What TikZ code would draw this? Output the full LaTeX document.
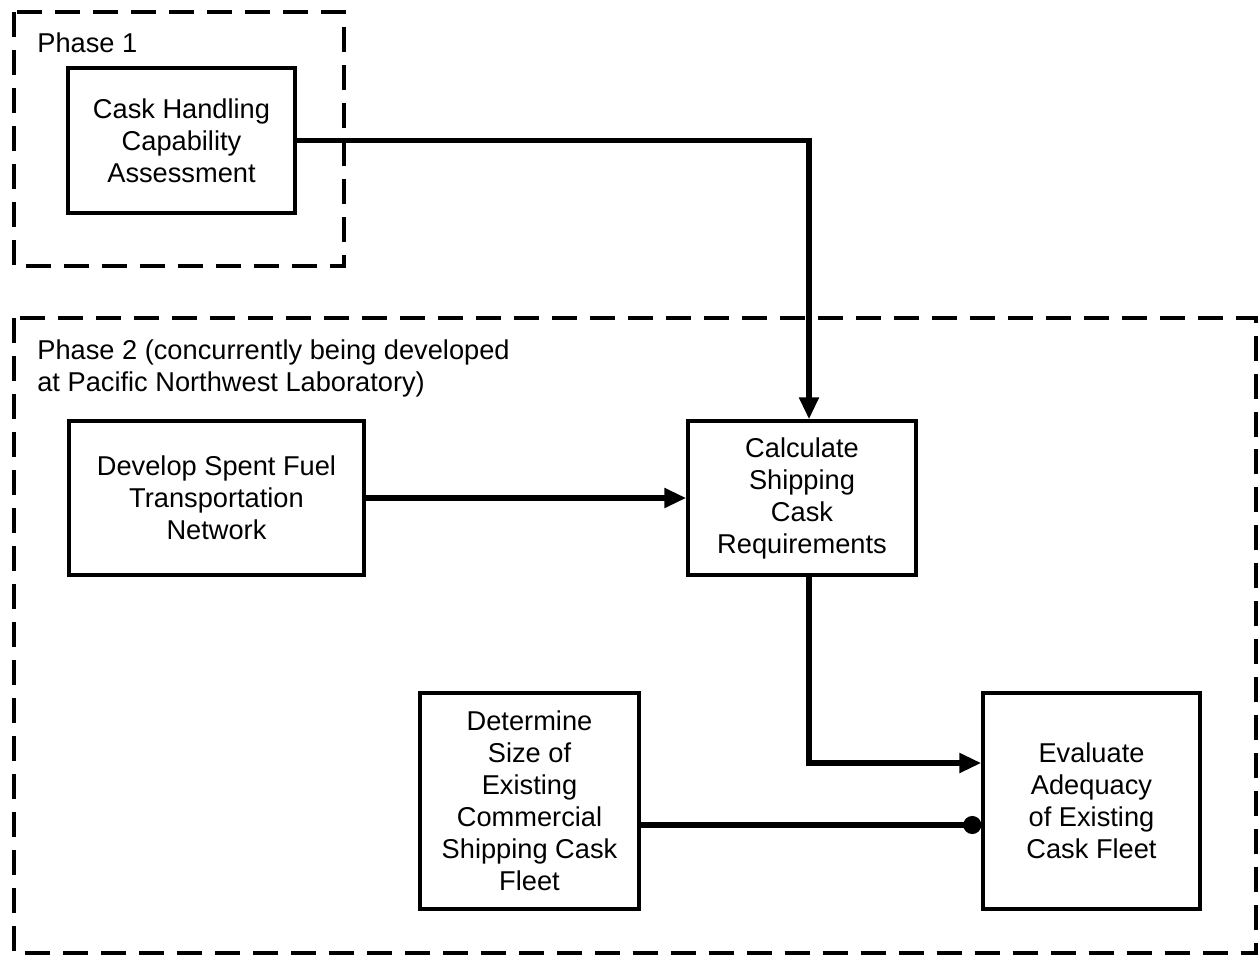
\documentclass[tikz,border=0pt]{standalone}
\usepackage{fontspec}
\setmainfont{Liberation Sans}
\usetikzlibrary{arrows.meta}

\tikzset{
  stage/.style={draw, line width=2pt, align=center, inner sep=0pt,
    font=\fontsize{15.5}{18.2}\selectfont},
  phase/.style={line width=2.4pt, dash pattern=on 0.5cm off 0.26cm},
  label/.style={align=left, inner sep=0pt, font=\fontsize{15.5}{18.2}\selectfont},
  flow/.style={line width=3pt, -{Triangle[length=0.44cm,width=0.38cm]}},
  dotflow/.style={line width=3pt, -{Circle[length=0.36cm]}},
}

\begin{document}
\begin{tikzpicture}[x=0.02cm,y=-0.02cm]
			%%%%% START %%%%%
			\useasboundingbox (0,0) rectangle (1259,957);
			
			% phase frames
			\draw[phase] (14,12) rectangle (344,266);
			\draw[phase] (14,318) rectangle (1256,953);
			\node[label, anchor=west] (ph1) at (37,43) {Phase 1};
			\node[label, anchor=west] (ph2) at (37,368) {Phase 2 (concurrently being developed\\at Pacific Northwest Laboratory)};
			
			% boxes
			\node[stage, minimum width=4.54cm, minimum height=2.9cm] (cask) at (181.5,140.5) {Cask Handling\\Capability\\Assessment};
			\node[stage, minimum width=5.9cm, minimum height=3.08cm] (net) at (216.5,498) {Develop Spent Fuel\\Transportation\\Network};
			\node[stage, minimum width=4.56cm, minimum height=3.08cm] (calc) at (802,498) {Calculate\\Shipping\\Cask\\Requirements};
			\node[stage, minimum width=4.38cm, minimum height=4.32cm] (size) at (529.5,801) {Determine\\Size of\\Existing\\Commercial\\Shipping Cask\\Fleet};
			\node[stage, minimum width=4.34cm, minimum height=4.32cm] (eval) at (1091.5,801) {Evaluate\\Adequacy\\of Existing\\Cask Fleet};
			
			% connectors
			\draw[flow] (cask.east) -| ([xshift=0.14cm]calc.north);
			\draw[flow] (net.east) -- (calc.west);
			\draw[flow] ([xshift=0.14cm]calc.south) |- ([yshift=0.76cm]eval.west);
			\draw[dotflow] ([yshift=-0.48cm]size.east) -- ([yshift=-0.48cm]eval.west);
			%%%%% END %%%%%
\end{tikzpicture}
\end{document}
